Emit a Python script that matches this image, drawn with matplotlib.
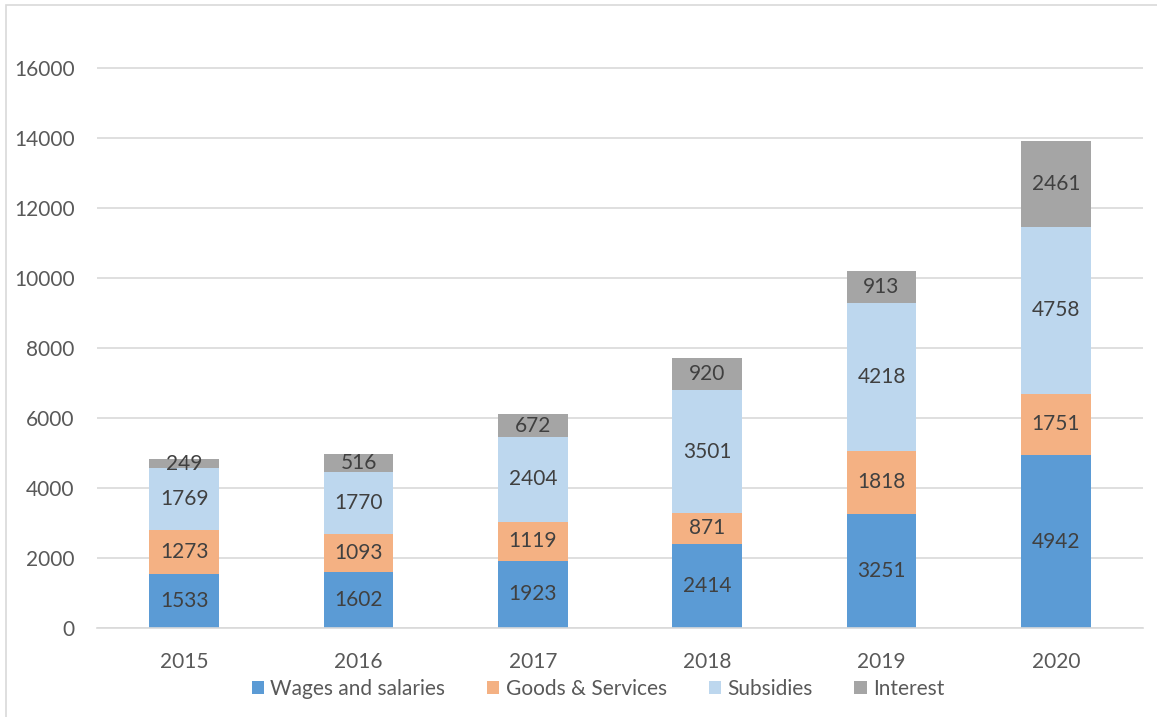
import matplotlib.pyplot as plt
import numpy as np
from matplotlib.patches import Rectangle

plt.rcParams["font.family"] = ["Lato", "DejaVu Sans"]

years = ["2015", "2016", "2017", "2018", "2019", "2020"]
wages = [1533, 1602, 1923, 2414, 3251, 4942]
goods = [1273, 1093, 1119, 871, 1818, 1751]
subsidies = [1769, 1770, 2404, 3501, 4218, 4758]
interest = [249, 516, 672, 920, 913, 2461]

series = [
    ("Wages and salaries", wages, "#5B9BD5"),
    ("Goods & Services", goods, "#F4B183"),
    ("Subsidies", subsidies, "#BDD7EE"),
    ("Interest", interest, "#A5A5A5"),
]

fig = plt.figure(figsize=(11.57, 7.17), dpi=100)
ax = fig.add_axes([97 / 1157, 89 / 717, 1046 / 1157, 595 / 717])

# chart-area border (left and top visible)
fig.patches.append(Rectangle((6 / 1157, -0.1), 1.2, (717 - 5) / 717 + 0.1,
                             transform=fig.transFigure, fill=False,
                             edgecolor="#D9D9D9", linewidth=1.2))

x = np.arange(len(years))
bottom = np.zeros(len(years))
for name, vals, color in series:
    vals = np.array(vals)
    ax.bar(x, vals, 0.4, bottom=bottom, color=color, label=name, zorder=2)
    for xi, b, v in zip(x, bottom, vals):
        ax.text(xi, b + v / 2, f"{v}", ha="center", va="center",
                fontsize=15, color="#404040", zorder=3)
    bottom += vals

ax.set_xlim(-0.5, len(years) - 0.5)
ax.set_ylim(0, 17000)
ax.set_yticks(np.arange(0, 16001, 2000))
ax.set_xticks(x)
ax.set_xticklabels(years)
ax.yaxis.grid(True, color="#D9D9D9", linewidth=1.2, zorder=0)
ax.set_axisbelow(True)
for s in ["top", "right", "left"]:
    ax.spines[s].set_visible(False)
ax.spines["bottom"].set_color("#D9D9D9")
ax.spines["bottom"].set_linewidth(1.2)
ax.tick_params(axis="both", length=0, labelsize=15, labelcolor="#595959")
ax.tick_params(axis="y", pad=16)
ax.tick_params(axis="x", pad=17)

fig.legend(loc="center", bbox_to_anchor=(598 / 1157, (717 - 689) / 717), ncol=4,
           frameon=False, fontsize=15, labelcolor="#595959",
           handlelength=0.6, handleheight=0.6, handletextpad=0.3,
           columnspacing=2.0)

fig.savefig("out.png", dpi=100)
